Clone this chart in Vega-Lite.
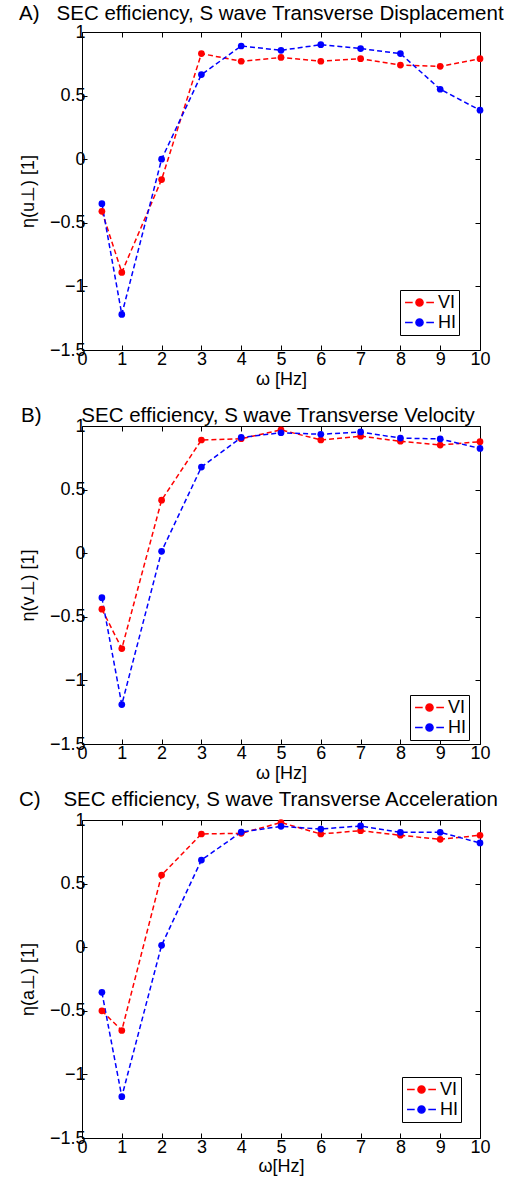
{
  "$schema": "https://vega.github.io/schema/vega-lite/v6.json",
  "padding": {"left": 18, "top": 3, "right": 5, "bottom": 5},
  "bounds": "flush",
  "spacing": 76,
  "resolve": {"scale": {"stroke": "independent", "fill": "independent"}, "legend": {"stroke": "independent", "fill": "independent"}},
  "config": {
    "font": "Liberation Sans",
    "view": {"stroke": "black", "strokeWidth": 1},
    "axis": {
      "grid": false, "domain": false, "tickColor": "black", "tickSize": -5, "tickWidth": 1,
      "minExtent": 0,
      "labelFont": "Liberation Sans", "labelFontSize": 18, "labelColor": "black",
      "labelFlush": false, "labelOverlap": false,
      "titleFont": "Liberation Sans", "titleFontSize": 18, "titleFontWeight": "normal", "titleColor": "black"
    },
    "axisX": {"labelPadding": 5},
    "axisY": {"labelPadding": 2},
    "title": {"font": "Liberation Sans", "fontSize": 20.5, "fontWeight": "normal", "color": "black"},
    "legend": {
      "orient": "none", "title": null,
      "symbolType": "M-1.7,0H-0.8M0.8,0H1.7M-0.42,0A0.42,0.42 0 1,1 0.42,0A0.42,0.42 0 1,1 -0.42,0Z",
      "symbolSize": 289, "symbolStrokeWidth": 1.5, "symbolOffset": 7, "labelOffset": 9,
      "labelFont": "Liberation Sans", "labelFontSize": 18, "labelColor": "black",
      "strokeColor": "black", "fillColor": "white", "padding": 3, "rowPadding": 1
    }
  },
  "datasets": {
    "A": [
      {"w": 0.5, "eta": -0.41, "series": "VI"}, {"w": 1, "eta": -0.89, "series": "VI"}, {"w": 2, "eta": -0.16, "series": "VI"},
      {"w": 3, "eta": 0.83, "series": "VI"}, {"w": 4, "eta": 0.77, "series": "VI"}, {"w": 5, "eta": 0.80, "series": "VI"},
      {"w": 6, "eta": 0.77, "series": "VI"}, {"w": 7, "eta": 0.79, "series": "VI"}, {"w": 8, "eta": 0.74, "series": "VI"},
      {"w": 9, "eta": 0.73, "series": "VI"}, {"w": 10, "eta": 0.79, "series": "VI"},
      {"w": 0.5, "eta": -0.35, "series": "HI"}, {"w": 1, "eta": -1.22, "series": "HI"}, {"w": 2, "eta": 0.0, "series": "HI"},
      {"w": 3, "eta": 0.665, "series": "HI"}, {"w": 4, "eta": 0.89, "series": "HI"}, {"w": 5, "eta": 0.856, "series": "HI"},
      {"w": 6, "eta": 0.90, "series": "HI"}, {"w": 7, "eta": 0.87, "series": "HI"}, {"w": 8, "eta": 0.83, "series": "HI"},
      {"w": 9, "eta": 0.55, "series": "HI"}, {"w": 10, "eta": 0.385, "series": "HI"}
    ],
    "B": [
      {"w": 0.5, "eta": -0.44, "series": "VI"}, {"w": 1, "eta": -0.75, "series": "VI"}, {"w": 2, "eta": 0.417, "series": "VI"},
      {"w": 3, "eta": 0.89, "series": "VI"}, {"w": 4, "eta": 0.90, "series": "VI"}, {"w": 5, "eta": 0.97, "series": "VI"},
      {"w": 6, "eta": 0.89, "series": "VI"}, {"w": 7, "eta": 0.92, "series": "VI"}, {"w": 8, "eta": 0.88, "series": "VI"},
      {"w": 9, "eta": 0.85, "series": "VI"}, {"w": 10, "eta": 0.877, "series": "VI"},
      {"w": 0.5, "eta": -0.35, "series": "HI"}, {"w": 1, "eta": -1.19, "series": "HI"}, {"w": 2, "eta": 0.015, "series": "HI"},
      {"w": 3, "eta": 0.677, "series": "HI"}, {"w": 4, "eta": 0.91, "series": "HI"}, {"w": 5, "eta": 0.947, "series": "HI"},
      {"w": 6, "eta": 0.935, "series": "HI"}, {"w": 7, "eta": 0.953, "series": "HI"}, {"w": 8, "eta": 0.905, "series": "HI"},
      {"w": 9, "eta": 0.898, "series": "HI"}, {"w": 10, "eta": 0.824, "series": "HI"}
    ],
    "C": [
      {"w": 0.5, "eta": -0.50, "series": "VI"}, {"w": 1, "eta": -0.655, "series": "VI"}, {"w": 2, "eta": 0.567, "series": "VI"},
      {"w": 3, "eta": 0.89, "series": "VI"}, {"w": 4, "eta": 0.895, "series": "VI"}, {"w": 5, "eta": 0.98, "series": "VI"},
      {"w": 6, "eta": 0.89, "series": "VI"}, {"w": 7, "eta": 0.916, "series": "VI"}, {"w": 8, "eta": 0.88, "series": "VI"},
      {"w": 9, "eta": 0.848, "series": "VI"}, {"w": 10, "eta": 0.88, "series": "VI"},
      {"w": 0.5, "eta": -0.355, "series": "HI"}, {"w": 1, "eta": -1.175, "series": "HI"}, {"w": 2, "eta": 0.015, "series": "HI"},
      {"w": 3, "eta": 0.685, "series": "HI"}, {"w": 4, "eta": 0.905, "series": "HI"}, {"w": 5, "eta": 0.95, "series": "HI"},
      {"w": 6, "eta": 0.929, "series": "HI"}, {"w": 7, "eta": 0.953, "series": "HI"}, {"w": 8, "eta": 0.903, "series": "HI"},
      {"w": 9, "eta": 0.903, "series": "HI"}, {"w": 10, "eta": 0.82, "series": "HI"}
    ]
  },
  "vconcat": [
    {
      "width": 398, "height": 318,
      "data": {"name": "A"},
      "title": {"text": "A)\u00a0\u00a0\u00a0SEC efficiency, S wave Transverse Displacement", "anchor": "start", "frame": "group", "dx": -63, "offset": -17, "baseline": "alphabetic"},
      "layer": [
        {
          "mark": {"type": "line", "strokeDash": [5, 3], "strokeWidth": 1.5},
          "encoding": {
            "x": {"field": "w", "type": "quantitative", "scale": {"domain": [0, 10], "nice": false},
                  "axis": {"orient": "bottom", "values": [0,1,2,3,4,5,6,7,8,9,10], "title": "ω [Hz]", "titlePadding": 2}},
            "y": {"field": "eta", "type": "quantitative", "scale": {"domain": [-1.5, 1], "nice": false},
                  "axis": {"orient": "left", "values": [-1.5,-1,-0.5,0,0.5,1], "format": "~g", "title": "η(u⊥) [1]", "titlePadding": 12}},
            "stroke": {"field": "series", "type": "nominal", "scale": {"domain": ["VI", "HI"], "range": ["#ff0000", "#0000ff"]},
                       "legend": {"legendX": 318, "legendY": 258}}
          }
        },
        {
          "mark": {"type": "point", "filled": true, "size": 45, "opacity": 1},
          "encoding": {
            "x": {"field": "w", "type": "quantitative", "axis": {"orient": "top", "labels": false, "title": null, "values": [0,1,2,3,4,5,6,7,8,9,10]}},
            "y": {"field": "eta", "type": "quantitative", "axis": {"orient": "right", "labels": false, "title": null, "values": [-1.5,-1,-0.5,0,0.5,1]}},
            "fill": {"field": "series", "type": "nominal", "scale": {"domain": ["VI", "HI"], "range": ["#ff0000", "#0000ff"]},
                     "legend": {"legendX": 318, "legendY": 258}}
          }
        }
      ],
      "resolve": {"axis": {"x": "independent", "y": "independent"}}
    },
    {
      "width": 398, "height": 318,
      "data": {"name": "B"},
      "title": {"text": "B)\u00a0\u00a0\u00a0\u00a0\u00a0\u00a0\u00a0SEC efficiency, S wave Transverse Velocity", "anchor": "start", "frame": "group", "dx": -61, "offset": -25, "baseline": "alphabetic"},
      "layer": [
        {
          "mark": {"type": "line", "strokeDash": [5, 3], "strokeWidth": 1.5},
          "encoding": {
            "x": {"field": "w", "type": "quantitative", "scale": {"domain": [0, 10], "nice": false},
                  "axis": {"orient": "bottom", "values": [0,1,2,3,4,5,6,7,8,9,10], "title": "ω [Hz]", "titlePadding": 2}},
            "y": {"field": "eta", "type": "quantitative", "scale": {"domain": [-1.5, 1], "nice": false},
                  "axis": {"orient": "left", "values": [-1.5,-1,-0.5,0,0.5,1], "format": "~g", "title": "η(v⊥) [1]", "titlePadding": 12}},
            "stroke": {"field": "series", "type": "nominal", "scale": {"domain": ["VI", "HI"], "range": ["#ff0000", "#0000ff"]},
                       "legend": {"legendX": 328, "legendY": 269}}
          }
        },
        {
          "mark": {"type": "point", "filled": true, "size": 45, "opacity": 1},
          "encoding": {
            "x": {"field": "w", "type": "quantitative", "axis": {"orient": "top", "labels": false, "title": null, "values": [0,1,2,3,4,5,6,7,8,9,10]}},
            "y": {"field": "eta", "type": "quantitative", "axis": {"orient": "right", "labels": false, "title": null, "values": [-1.5,-1,-0.5,0,0.5,1]}},
            "fill": {"field": "series", "type": "nominal", "scale": {"domain": ["VI", "HI"], "range": ["#ff0000", "#0000ff"]},
                     "legend": {"legendX": 328, "legendY": 269}}
          }
        }
      ],
      "resolve": {"axis": {"x": "independent", "y": "independent"}}
    },
    {
      "width": 398, "height": 318,
      "data": {"name": "C"},
      "title": {"text": "C)\u00a0\u00a0\u00a0\u00a0SEC efficiency, S wave Transverse Acceleration", "anchor": "start", "frame": "group", "dx": -63, "offset": -15, "baseline": "alphabetic"},
      "layer": [
        {
          "mark": {"type": "line", "strokeDash": [5, 3], "strokeWidth": 1.5},
          "encoding": {
            "x": {"field": "w", "type": "quantitative", "scale": {"domain": [0, 10], "nice": false},
                  "axis": {"orient": "bottom", "values": [0,1,2,3,4,5,6,7,8,9,10], "title": "ω[Hz]", "titlePadding": 1}},
            "y": {"field": "eta", "type": "quantitative", "scale": {"domain": [-1.5, 1], "nice": false},
                  "axis": {"orient": "left", "values": [-1.5,-1,-0.5,0,0.5,1], "format": "~g", "title": "η(a⊥) [1]", "titlePadding": 12}},
            "stroke": {"field": "series", "type": "nominal", "scale": {"domain": ["VI", "HI"], "range": ["#ff0000", "#0000ff"]},
                       "legend": {"legendX": 320, "legendY": 257}}
          }
        },
        {
          "mark": {"type": "point", "filled": true, "size": 45, "opacity": 1},
          "encoding": {
            "x": {"field": "w", "type": "quantitative", "axis": {"orient": "top", "labels": false, "title": null, "values": [0,1,2,3,4,5,6,7,8,9,10]}},
            "y": {"field": "eta", "type": "quantitative", "axis": {"orient": "right", "labels": false, "title": null, "values": [-1.5,-1,-0.5,0,0.5,1]}},
            "fill": {"field": "series", "type": "nominal", "scale": {"domain": ["VI", "HI"], "range": ["#ff0000", "#0000ff"]},
                     "legend": {"legendX": 320, "legendY": 257}}
          }
        }
      ],
      "resolve": {"axis": {"x": "independent", "y": "independent"}}
    }
  ]
}
